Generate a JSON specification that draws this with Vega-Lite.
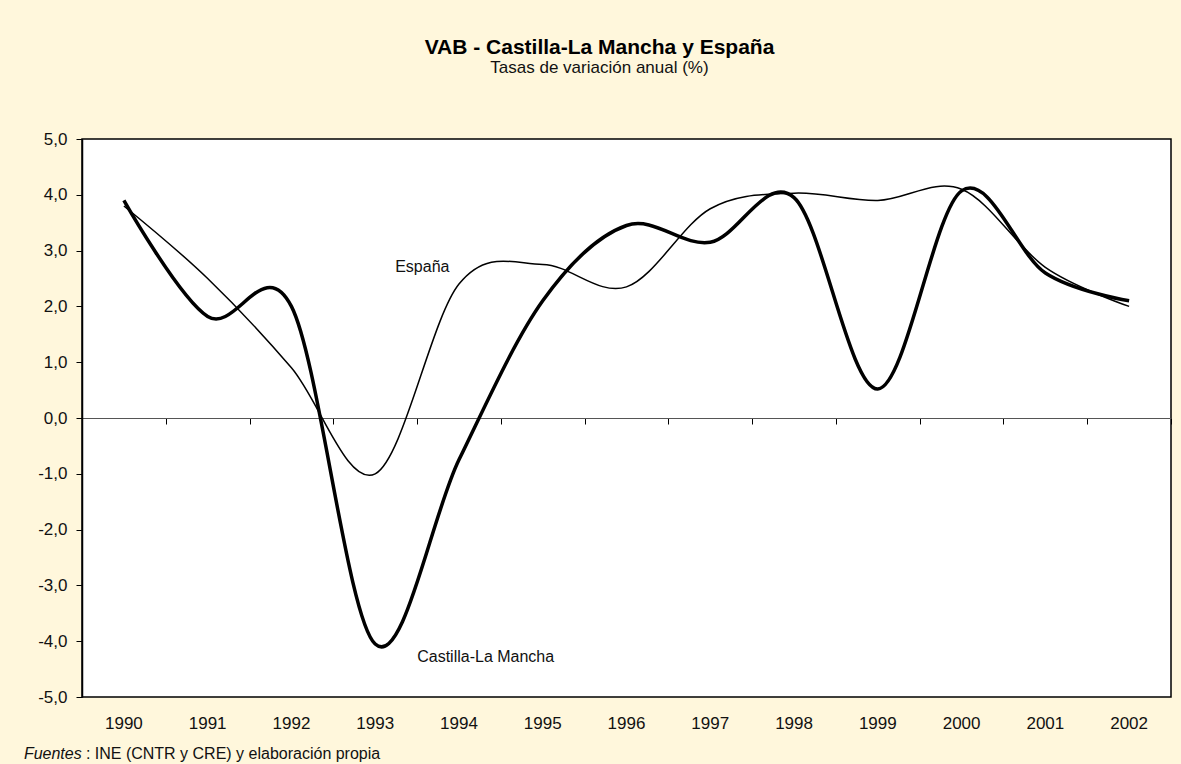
{
  "$schema": "https://vega.github.io/schema/vega-lite/v6.json",
  "width": 1089,
  "height": 558,
  "autosize": {"type": "none"},
  "padding": {"left": 82, "top": 139, "right": 10, "bottom": 67},
  "background": "#FFF7DC",
  "config": {
    "font": "Liberation Sans",
    "view": {"fill": "white", "stroke": "black", "strokeWidth": 1.5}
  },
  "title": {
    "text": "VAB - Castilla-La Mancha y España",
    "subtitle": "Tasas de variación anual (%)",
    "font": "Liberation Sans",
    "fontSize": 21,
    "fontWeight": "bold",
    "color": "#000000",
    "subtitleFont": "Liberation Sans",
    "subtitleFontSize": 17,
    "subtitleColor": "#111111",
    "subtitlePadding": 2,
    "anchor": "middle",
    "dx": -27,
    "offset": 54
  },
  "datasets": {
    "series": [
      {"year": "1990", "serie": "Castilla-La Mancha", "value": 3.9},
      {"year": "1991", "serie": "Castilla-La Mancha", "value": 1.82},
      {"year": "1992", "serie": "Castilla-La Mancha", "value": 2.0},
      {"year": "1993", "serie": "Castilla-La Mancha", "value": -4.05},
      {"year": "1994", "serie": "Castilla-La Mancha", "value": -0.75},
      {"year": "1995", "serie": "Castilla-La Mancha", "value": 2.1},
      {"year": "1996", "serie": "Castilla-La Mancha", "value": 3.45},
      {"year": "1997", "serie": "Castilla-La Mancha", "value": 3.15},
      {"year": "1998", "serie": "Castilla-La Mancha", "value": 3.95},
      {"year": "1999", "serie": "Castilla-La Mancha", "value": 0.52},
      {"year": "2000", "serie": "Castilla-La Mancha", "value": 4.07},
      {"year": "2001", "serie": "Castilla-La Mancha", "value": 2.6},
      {"year": "2002", "serie": "Castilla-La Mancha", "value": 2.1},
      {"year": "1990", "serie": "España", "value": 3.8},
      {"year": "1991", "serie": "España", "value": 2.5},
      {"year": "1992", "serie": "España", "value": 0.9},
      {"year": "1993", "serie": "España", "value": -1.0},
      {"year": "1994", "serie": "España", "value": 2.4},
      {"year": "1995", "serie": "España", "value": 2.75},
      {"year": "1996", "serie": "España", "value": 2.35},
      {"year": "1997", "serie": "España", "value": 3.75},
      {"year": "1998", "serie": "España", "value": 4.03},
      {"year": "1999", "serie": "España", "value": 3.9},
      {"year": "2000", "serie": "España", "value": 4.1},
      {"year": "2001", "serie": "España", "value": 2.7},
      {"year": "2002", "serie": "España", "value": 2.0}
    ]
  },
  "data": {"name": "series"},
  "resolve": {"axis": {"x": "independent"}},
  "layer": [
    {
      "transform": [{"filter": "datum.serie == 'España'"}],
      "mark": {"type": "line", "interpolate": "cardinal", "color": "#000000", "strokeWidth": 1.5},
      "encoding": {
        "x": {
          "field": "year", "type": "ordinal",
          "scale": {"type": "band", "paddingInner": 0, "paddingOuter": 0},
          "axis": {
            "orient": "bottom", "offset": -279, "title": null, "labels": false,
            "domain": true, "domainColor": "#555555", "domainWidth": 1,
            "ticks": true, "tickBand": "extent", "tickSize": 6, "tickColor": "#000000", "tickWidth": 1,
            "grid": false
          }
        },
        "y": {
          "field": "value", "type": "quantitative",
          "scale": {"domain": [-5, 5], "nice": false, "zero": false},
          "axis": {
            "title": null, "values": [-5, -4, -3, -2, -1, 0, 1, 2, 3, 4, 5],
            "labelExpr": "replace(replace(format(datum.value, '.1f'), '.', ','), '−', '-')",
            "labelFontSize": 17, "labelColor": "#111111", "labelPadding": 9,
            "tickSize": 6, "tickColor": "#000000", "domainColor": "#000000", "domainWidth": 1.5,
            "grid": false
          }
        }
      }
    },
    {
      "transform": [{"filter": "datum.serie == 'Castilla-La Mancha'"}],
      "mark": {"type": "line", "interpolate": "cardinal", "color": "#000000", "strokeWidth": 3.5},
      "encoding": {
        "x": {
          "field": "year", "type": "ordinal",
          "scale": {"type": "band", "paddingInner": 0, "paddingOuter": 0},
          "axis": {
            "orient": "bottom", "title": null, "ticks": false, "domain": false,
            "labelAngle": 0, "labelFontSize": 17, "labelColor": "#111111", "labelPadding": 18,
            "grid": false
          }
        },
        "y": {
          "field": "value", "type": "quantitative",
          "scale": {"domain": [-5, 5], "nice": false, "zero": false},
          "axis": {
            "title": null, "values": [-5, -4, -3, -2, -1, 0, 1, 2, 3, 4, 5],
            "labelExpr": "replace(replace(format(datum.value, '.1f'), '.', ','), '−', '-')",
            "labelFontSize": 17, "labelColor": "#111111", "labelPadding": 9,
            "tickSize": 6, "tickColor": "#000000", "domainColor": "#000000", "domainWidth": 1.5,
            "grid": false
          }
        }
      }
    },
    {
      "data": {"values": [{"label": "España"}]},
      "mark": {"type": "text", "align": "left", "baseline": "alphabetic", "fontSize": 16, "color": "#111111", "dx": 20},
      "encoding": {
        "x": {"datum": "1993", "type": "ordinal", "axis": null},
        "y": {"datum": 2.62, "type": "quantitative"},
        "text": {"field": "label"}
      }
    },
    {
      "data": {"values": [{"label": "Castilla-La Mancha"}]},
      "mark": {"type": "text", "align": "left", "baseline": "alphabetic", "fontSize": 16, "color": "#111111", "dx": 42},
      "encoding": {
        "x": {"datum": "1993", "type": "ordinal", "axis": null},
        "y": {"datum": -4.37, "type": "quantitative"},
        "text": {"field": "label"}
      }
    },
    {
      "data": {"values": [{"label": "Fuentes"}]},
      "mark": {"type": "text", "align": "left", "baseline": "alphabetic", "fontSize": 16, "fontStyle": "italic", "color": "#111111", "dx": -100},
      "encoding": {
        "x": {"datum": "1990", "type": "ordinal", "axis": null},
        "y": {"datum": -6.11, "type": "quantitative"},
        "text": {"field": "label"}
      }
    },
    {
      "data": {"values": [{"label": ": INE (CNTR y CRE) y elaboración propia"}]},
      "mark": {"type": "text", "align": "left", "baseline": "alphabetic", "fontSize": 16, "color": "#111111", "dx": -38},
      "encoding": {
        "x": {"datum": "1990", "type": "ordinal", "axis": null},
        "y": {"datum": -6.11, "type": "quantitative"},
        "text": {"field": "label"}
      }
    }
  ]
}
